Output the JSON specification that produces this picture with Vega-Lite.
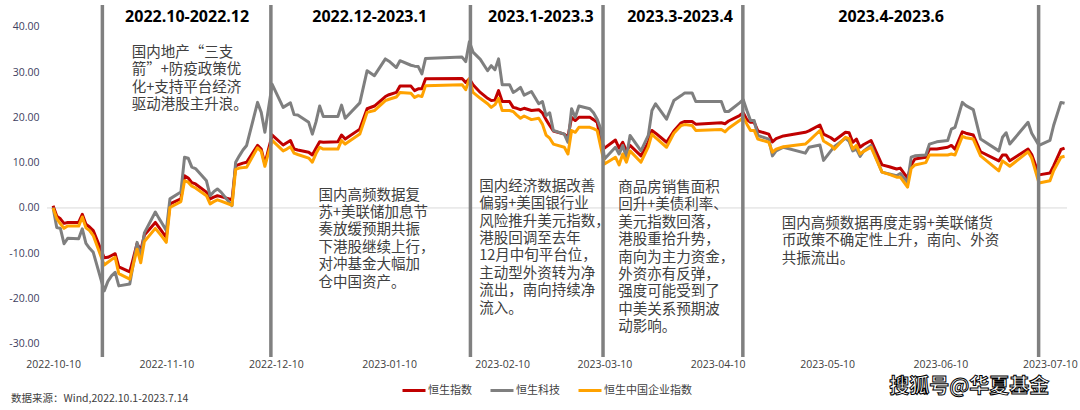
{
  "$schema": "https://vega.github.io/schema/vega-lite/v6.json",
  "autosize": {"type": "none"},
  "padding": {"left": 47, "top": 5, "right": 13, "bottom": 53},
  "width": 1020,
  "height": 352,
  "background": "#ffffff",
  "config": {"view": {"stroke": null}},
  "datasets": {
    "series": [
      {"date":"2022-10-10","hsi":0.5,"hscei":0.0,"hstech":0.1},
      {"date":"2022-10-11","hsi":-1.8,"hscei":-2.3,"hstech":-4.3},
      {"date":"2022-10-12","hsi":-2.4,"hscei":-3.5,"hstech":-4.5},
      {"date":"2022-10-13","hsi":-3.4,"hscei":-4.5,"hstech":-7.9},
      {"date":"2022-10-14","hsi":-3.2,"hscei":-4.0,"hstech":-6.7},
      {"date":"2022-10-17","hsi":-3.2,"hscei":-4.0,"hstech":-6.8},
      {"date":"2022-10-18","hsi":-1.4,"hscei":-2.0,"hstech":-4.6},
      {"date":"2022-10-19","hsi":-3.6,"hscei":-4.4,"hstech":-7.8},
      {"date":"2022-10-20","hsi":-4.2,"hscei":-5.0,"hstech":-8.9},
      {"date":"2022-10-21","hsi":-5.0,"hscei":-6.1,"hstech":-9.8},
      {"date":"2022-10-24","hsi":-11.0,"hscei":-12.6,"hstech":-18.3},
      {"date":"2022-10-25","hsi":-10.9,"hscei":-12.0,"hstech":-16.2},
      {"date":"2022-10-26","hsi":-10.5,"hscei":-11.4,"hstech":-15.0},
      {"date":"2022-10-27","hsi":-10.1,"hscei":-10.9,"hstech":-14.2},
      {"date":"2022-10-28","hsi":-13.0,"hscei":-14.5,"hstech":-17.2},
      {"date":"2022-10-31","hsi":-14.1,"hscei":-15.7,"hstech":-16.8},
      {"date":"2022-11-01","hsi":-11.0,"hscei":-12.4,"hstech":-12.2},
      {"date":"2022-11-02","hsi":-7.9,"hscei":-9.1,"hstech":-7.6},
      {"date":"2022-11-03","hsi":-9.4,"hscei":-12.1,"hstech":-10.9},
      {"date":"2022-11-04","hsi":-6.0,"hscei":-7.4,"hstech":-5.5},
      {"date":"2022-11-07","hsi":-3.2,"hscei":-4.5,"hstech":-0.9},
      {"date":"2022-11-08","hsi":-4.3,"hscei":-5.5,"hstech":-2.3},
      {"date":"2022-11-09","hsi":-5.4,"hscei":-6.5,"hstech":-3.6},
      {"date":"2022-11-10","hsi":-6.5,"hscei":-7.6,"hstech":-5.0},
      {"date":"2022-11-11","hsi":0.9,"hscei":0.1,"hstech":2.0},
      {"date":"2022-11-14","hsi":2.0,"hscei":1.4,"hstech":3.5},
      {"date":"2022-11-15","hsi":7.1,"hscei":6.0,"hstech":11.2},
      {"date":"2022-11-16","hsi":6.6,"hscei":5.7,"hstech":11.0},
      {"date":"2022-11-17","hsi":5.6,"hscei":4.8,"hstech":9.0},
      {"date":"2022-11-18","hsi":5.3,"hscei":4.4,"hstech":8.7},
      {"date":"2022-11-21","hsi":3.5,"hscei":2.7,"hstech":6.0},
      {"date":"2022-11-22","hsi":2.0,"hscei":0.9,"hstech":2.7},
      {"date":"2022-11-23","hsi":2.4,"hscei":1.4,"hstech":3.6},
      {"date":"2022-11-24","hsi":2.7,"hscei":1.8,"hstech":4.2},
      {"date":"2022-11-25","hsi":2.5,"hscei":1.5,"hstech":3.5},
      {"date":"2022-11-28","hsi":1.8,"hscei":0.6,"hstech":0.5},
      {"date":"2022-11-29","hsi":9.3,"hscei":8.5,"hstech":10.1},
      {"date":"2022-11-30","hsi":9.6,"hscei":8.8,"hstech":11.5},
      {"date":"2022-12-01","hsi":9.9,"hscei":8.9,"hstech":12.8},
      {"date":"2022-12-02","hsi":10.1,"hscei":9.0,"hstech":13.8},
      {"date":"2022-12-05","hsi":13.8,"hscei":13.3,"hstech":23.3},
      {"date":"2022-12-06","hsi":13.0,"hscei":12.5,"hstech":21.1},
      {"date":"2022-12-07","hsi":9.7,"hscei":9.2,"hstech":16.7},
      {"date":"2022-12-08","hsi":13.0,"hscei":12.2,"hstech":22.0},
      {"date":"2022-12-09","hsi":16.1,"hscei":14.9,"hstech":27.3},
      {"date":"2022-12-12","hsi":13.9,"hscei":12.6,"hstech":22.2},
      {"date":"2022-12-13","hsi":14.4,"hscei":13.0,"hstech":22.7},
      {"date":"2022-12-14","hsi":14.9,"hscei":13.5,"hstech":23.2},
      {"date":"2022-12-15","hsi":13.0,"hscei":12.1,"hstech":20.6},
      {"date":"2022-12-16","hsi":12.8,"hscei":11.8,"hstech":20.5},
      {"date":"2022-12-19","hsi":12.3,"hscei":11.0,"hstech":18.9},
      {"date":"2022-12-20","hsi":11.7,"hscei":10.1,"hstech":16.3},
      {"date":"2022-12-21","hsi":13.2,"hscei":12.0,"hstech":19.0},
      {"date":"2022-12-22","hsi":14.6,"hscei":13.4,"hstech":22.5},
      {"date":"2022-12-23","hsi":14.5,"hscei":13.0,"hstech":20.2},
      {"date":"2022-12-27","hsi":14.6,"hscei":13.0,"hstech":20.2},
      {"date":"2022-12-28","hsi":16.1,"hscei":14.9,"hstech":22.7},
      {"date":"2022-12-29","hsi":15.2,"hscei":14.1,"hstech":19.8},
      {"date":"2023-01-02","hsi":17.4,"hscei":16.3,"hstech":23.2},
      {"date":"2023-01-04","hsi":21.9,"hscei":21.1,"hstech":30.3},
      {"date":"2023-01-06","hsi":22.5,"hscei":21.5,"hstech":29.2},
      {"date":"2023-01-09","hsi":24.6,"hscei":23.7,"hstech":32.9},
      {"date":"2023-01-10","hsi":25.0,"hscei":24.0,"hstech":32.4},
      {"date":"2023-01-12","hsi":25.5,"hscei":24.5,"hstech":31.0},
      {"date":"2023-01-13","hsi":26.9,"hscei":25.5,"hstech":32.5},
      {"date":"2023-01-16","hsi":26.9,"hscei":25.3,"hstech":31.5},
      {"date":"2023-01-17","hsi":25.9,"hscei":24.4,"hstech":31.3},
      {"date":"2023-01-18","hsi":26.3,"hscei":24.8,"hstech":31.2},
      {"date":"2023-01-19","hsi":26.3,"hscei":24.6,"hstech":29.6},
      {"date":"2023-01-20","hsi":28.5,"hscei":27.0,"hstech":33.0},
      {"date":"2023-01-30","hsi":28.6,"hscei":27.2,"hstech":33.3},
      {"date":"2023-01-31","hsi":27.7,"hscei":26.1,"hstech":32.3},
      {"date":"2023-02-01","hsi":28.5,"hscei":28.5,"hstech":36.7},
      {"date":"2023-02-02","hsi":27.2,"hscei":25.5,"hstech":34.4},
      {"date":"2023-02-04","hsi":25.5,"hscei":24.2,"hstech":32.8},
      {"date":"2023-02-06","hsi":24.2,"hscei":23.0,"hstech":30.3},
      {"date":"2023-02-07","hsi":23.7,"hscei":22.2,"hstech":31.4},
      {"date":"2023-02-08","hsi":23.8,"hscei":22.8,"hstech":30.5},
      {"date":"2023-02-09","hsi":25.9,"hscei":24.2,"hstech":32.9},
      {"date":"2023-02-10","hsi":23.5,"hscei":21.5,"hstech":27.2},
      {"date":"2023-02-12","hsi":23.5,"hscei":21.5,"hstech":27.2},
      {"date":"2023-02-13","hsi":22.2,"hscei":21.3,"hstech":25.5},
      {"date":"2023-02-14","hsi":22.0,"hscei":20.5,"hstech":26.0},
      {"date":"2023-02-15","hsi":21.7,"hscei":19.8,"hstech":26.6},
      {"date":"2023-02-16","hsi":22.0,"hscei":20.3,"hstech":24.9},
      {"date":"2023-02-18","hsi":21.5,"hscei":19.5,"hstech":25.7},
      {"date":"2023-02-20","hsi":21.7,"hscei":19.8,"hstech":23.0},
      {"date":"2023-02-21","hsi":21.0,"hscei":18.5,"hstech":23.5},
      {"date":"2023-02-22","hsi":19.5,"hscei":16.1,"hstech":20.4},
      {"date":"2023-02-23","hsi":18.2,"hscei":15.4,"hstech":21.0},
      {"date":"2023-02-24","hsi":17.0,"hscei":14.1,"hstech":17.1},
      {"date":"2023-02-27","hsi":16.3,"hscei":13.4,"hstech":16.3},
      {"date":"2023-02-28","hsi":15.7,"hscei":11.9,"hstech":14.5},
      {"date":"2023-03-01","hsi":20.0,"hscei":17.1,"hstech":21.9},
      {"date":"2023-03-02","hsi":19.3,"hscei":16.7,"hstech":20.0},
      {"date":"2023-03-03","hsi":20.0,"hscei":17.8,"hstech":22.5},
      {"date":"2023-03-06","hsi":20.0,"hscei":17.8,"hstech":21.9},
      {"date":"2023-03-07","hsi":19.5,"hscei":17.5,"hstech":21.0},
      {"date":"2023-03-08","hsi":18.9,"hscei":17.1,"hstech":19.6},
      {"date":"2023-03-09","hsi":14.9,"hscei":13.4,"hstech":17.4},
      {"date":"2023-03-10","hsi":13.2,"hscei":9.7,"hstech":10.8},
      {"date":"2023-03-13","hsi":15.0,"hscei":11.2,"hstech":13.4},
      {"date":"2023-03-14","hsi":13.2,"hscei":9.5,"hstech":11.9},
      {"date":"2023-03-15","hsi":14.5,"hscei":11.9,"hstech":13.8},
      {"date":"2023-03-16","hsi":12.6,"hscei":10.1,"hstech":11.2},
      {"date":"2023-03-17","hsi":13.8,"hscei":12.6,"hstech":16.0},
      {"date":"2023-03-20","hsi":11.5,"hscei":10.1,"hstech":12.6},
      {"date":"2023-03-22","hsi":14.5,"hscei":13.5,"hstech":16.0},
      {"date":"2023-03-23","hsi":17.1,"hscei":16.3,"hstech":21.5},
      {"date":"2023-03-24","hsi":16.5,"hscei":15.5,"hstech":23.0},
      {"date":"2023-03-27","hsi":14.5,"hscei":13.4,"hstech":19.6},
      {"date":"2023-03-29","hsi":17.0,"hscei":16.5,"hstech":23.7},
      {"date":"2023-03-31","hsi":18.8,"hscei":18.2,"hstech":24.8},
      {"date":"2023-04-01","hsi":19.1,"hscei":18.4,"hstech":25.4},
      {"date":"2023-04-03","hsi":19.1,"hscei":18.2,"hstech":25.4},
      {"date":"2023-04-04","hsi":18.5,"hscei":17.1,"hstech":23.5},
      {"date":"2023-04-11","hsi":18.8,"hscei":17.3,"hstech":23.5},
      {"date":"2023-04-12","hsi":18.6,"hscei":16.8,"hstech":21.3},
      {"date":"2023-04-13","hsi":19.2,"hscei":17.6,"hstech":21.3},
      {"date":"2023-04-16","hsi":20.4,"hscei":19.3,"hstech":23.2},
      {"date":"2023-04-17","hsi":21.0,"hscei":20.0,"hstech":23.9},
      {"date":"2023-04-18","hsi":19.5,"hscei":18.5,"hstech":21.5},
      {"date":"2023-04-19","hsi":18.9,"hscei":17.1,"hstech":19.3},
      {"date":"2023-04-20","hsi":18.9,"hscei":17.1,"hstech":19.3},
      {"date":"2023-04-21","hsi":17.0,"hscei":15.2,"hstech":16.0},
      {"date":"2023-04-24","hsi":16.3,"hscei":14.5,"hstech":15.2},
      {"date":"2023-04-25","hsi":14.6,"hscei":12.3,"hstech":11.5},
      {"date":"2023-04-26","hsi":15.3,"hscei":13.0,"hstech":12.6},
      {"date":"2023-04-28","hsi":15.9,"hscei":13.5,"hstech":13.4},
      {"date":"2023-05-04","hsi":16.7,"hscei":14.1,"hstech":12.1},
      {"date":"2023-05-05","hsi":17.0,"hscei":14.8,"hstech":13.4},
      {"date":"2023-05-08","hsi":18.3,"hscei":17.1,"hstech":13.9},
      {"date":"2023-05-09","hsi":16.3,"hscei":14.8,"hstech":10.5},
      {"date":"2023-05-11","hsi":15.5,"hscei":13.8,"hstech":12.6},
      {"date":"2023-05-12","hsi":14.9,"hscei":13.0,"hstech":13.6},
      {"date":"2023-05-15","hsi":16.7,"hscei":15.6,"hstech":15.4},
      {"date":"2023-05-16","hsi":16.6,"hscei":15.3,"hstech":14.7},
      {"date":"2023-05-17","hsi":14.5,"hscei":13.0,"hstech":12.6},
      {"date":"2023-05-18","hsi":15.2,"hscei":13.8,"hstech":13.0},
      {"date":"2023-05-19","hsi":13.4,"hscei":11.9,"hstech":11.4},
      {"date":"2023-05-20","hsi":14.0,"hscei":12.5,"hstech":12.6},
      {"date":"2023-05-22","hsi":14.9,"hscei":13.4,"hstech":13.8},
      {"date":"2023-05-25","hsi":9.5,"hscei":7.9,"hstech":7.9},
      {"date":"2023-05-27","hsi":9.1,"hscei":7.4,"hstech":7.5},
      {"date":"2023-05-29","hsi":8.6,"hscei":6.8,"hstech":7.1},
      {"date":"2023-05-30","hsi":8.8,"hscei":6.8,"hstech":7.6},
      {"date":"2023-06-01","hsi":6.6,"hscei":4.6,"hstech":5.7},
      {"date":"2023-06-02","hsi":9.5,"hscei":8.7,"hstech":11.2},
      {"date":"2023-06-03","hsi":10.8,"hscei":9.5,"hstech":11.5},
      {"date":"2023-06-06","hsi":11.2,"hscei":10.0,"hstech":11.7},
      {"date":"2023-06-07","hsi":13.0,"hscei":11.7,"hstech":14.1},
      {"date":"2023-06-09","hsi":13.0,"hscei":11.7,"hstech":14.6},
      {"date":"2023-06-12","hsi":13.4,"hscei":11.7,"hstech":14.9},
      {"date":"2023-06-13","hsi":13.8,"hscei":11.9,"hstech":17.4},
      {"date":"2023-06-14","hsi":13.0,"hscei":11.7,"hstech":17.8},
      {"date":"2023-06-16","hsi":16.8,"hscei":15.8,"hstech":23.3},
      {"date":"2023-06-17","hsi":16.5,"hscei":15.5,"hstech":22.6},
      {"date":"2023-06-19","hsi":16.1,"hscei":15.2,"hstech":21.7},
      {"date":"2023-06-21","hsi":12.4,"hscei":11.5,"hstech":15.2},
      {"date":"2023-06-26","hsi":10.4,"hscei":8.2,"hstech":12.6},
      {"date":"2023-06-27","hsi":11.7,"hscei":10.4,"hstech":15.6},
      {"date":"2023-06-28","hsi":11.7,"hscei":9.8,"hstech":16.6},
      {"date":"2023-06-29","hsi":10.4,"hscei":9.2,"hstech":14.1},
      {"date":"2023-07-04","hsi":13.0,"hscei":12.4,"hstech":18.9},
      {"date":"2023-07-05","hsi":11.8,"hscei":11.0,"hstech":16.5},
      {"date":"2023-07-07","hsi":7.3,"hscei":5.5,"hstech":13.8},
      {"date":"2023-07-10","hsi":7.7,"hscei":6.0,"hstech":14.9},
      {"date":"2023-07-11","hsi":9.3,"hscei":8.2,"hstech":18.2},
      {"date":"2023-07-13","hsi":12.9,"hscei":11.2,"hstech":23.3},
      {"date":"2023-07-14","hsi":13.2,"hscei":11.4,"hstech":23.1}
    ],
    "rules": [
      {"date":"2022-10-23T12:00:00Z"},
      {"date":"2022-12-08T15:30:00Z"},
      {"date":"2023-02-01T07:00:00Z"},
      {"date":"2023-03-09T14:30:00Z"},
      {"date":"2023-04-16T21:30:00Z"},
      {"date":"2023-07-06T21:30:00Z"}
    ],
    "headers": [
      {"date":"2022-11-15T17:00:00Z","value":42.1,"text":"2022.10-2022.12"},
      {"date":"2023-01-04T17:00:00Z","value":42.1,"text":"2022.12-2023.1"},
      {"date":"2023-02-20T14:00:00Z","value":42.1,"text":"2023.1-2023.3"},
      {"date":"2023-03-30T17:00:00Z","value":42.1,"text":"2023.3-2023.4"},
      {"date":"2023-05-27T12:00:00Z","value":42.1,"text":"2023.4-2023.6"}
    ],
    "notes": [
      {"date":"2022-10-31T13:30:00Z","value":35.74,"text":"国内地产“三支\n箭”+防疫政策优\n化+支持平台经济\n驱动港股主升浪。"},
      {"date":"2022-12-21T16:00:00Z","value":4.25,"text":"国内高频数据复\n苏+美联储加息节\n奏放缓预期共振\n下港股继续上行，\n对冲基金大幅加\n仓中国资产。"},
      {"date":"2023-02-03T17:00:00Z","value":6.22,"text":"国内经济数据改善\n偏弱+美国银行业\n风险推升美元指数，\n港股回调至去年\n12月中旬平台位，\n主动型外资转为净\n流出，南向持续净\n流入。"},
      {"date":"2023-03-13T18:00:00Z","value":5.93,"text":"商品房销售面积\n回升+美债利率、\n美元指数回落，\n港股重拾升势，\n南向为主力资金，\n外资亦有反弹，\n强度可能受到了\n中美关系预期波\n动影响。"},
      {"date":"2023-04-27T14:00:00Z","value":-1.95,"text":"国内高频数据再度走弱+美联储货\n币政策不确定性上升，南向、外资\n共振流出。"}
    ],
    "source": [
      {"date":"2022-09-28T12:00:00Z","value":-42.2,"text":"数据来源：Wind,2022.10.1-2023.7.14"}
    ],
    "mark": [
      {"date":"2023-06-17T21:30:00Z","value":-39.42,"text":"搜狐号@华夏基金"}
    ]
  },
  "layer": [
    {
      "mark": {"type": "rule", "color": "#d9d9d9", "strokeWidth": 1},
      "encoding": {
        "y": {
          "datum": 0, "type": "quantitative",
          "scale": {"domain": [-32.9, 44.8], "nice": false, "zero": false},
          "axis": {
            "values": [-30, -20, -10, 0, 10, 20, 30, 40],
            "labelExpr": "replace(format(datum.value, '.2f'), '\u2212', '-')",
            "domain": false, "ticks": false, "grid": false,
            "labelFont": "Open Sans", "labelFontSize": 10.5, "labelColor": "#404060",
            "labelPadding": 8, "title": null
          }
        }
      }
    },
    {
      "data": {"name": "series"},
      "transform": [
        {"fold": ["hsi", "hstech", "hscei"], "as": ["key", "value"]},
        {"calculate": "datum.key === 'hsi' ? '恒生指数' : datum.key === 'hstech' ? '恒生科技' : '恒生中国企业指数'", "as": "series"},
        {"filter": "datum.key === 'hsi'"}
      ],
      "mark": {"type": "line", "strokeWidth": 3, "strokeJoin": "round"},
      "encoding": {
        "x": {
          "field": "date", "type": "temporal",
          "scale": {"domain": [1665216000000, 1689350400000]},
          "axis": {
            "values": [1665360000000, 1668038400000, 1670630400000, 1673308800000, 1675987200000, 1678406400000, 1681084800000, 1683676800000, 1686355200000, 1688947200000],
            "labelExpr": "utcFormat(datum.value, '%Y-%m-%d')",
            "domain": false, "ticks": false, "grid": false,
            "labelFont": "Open Sans", "labelFontSize": 10.5, "labelColor": "#404040",
            "labelPadding": 2, "title": null, "labelOverlap": false, "labelFlush": false
          }
        },
        "y": {"field": "value", "type": "quantitative", "scale": {"domain": [-32.9, 44.8], "nice": false, "zero": false}},
        "color": {
          "field": "series", "type": "nominal",
          "scale": {"domain": ["恒生指数", "恒生科技", "恒生中国企业指数"], "range": ["#C00000", "#7F7F7F", "#FFA200"]},
          "legend": {
            "orient": "none", "legendX": 354, "legendY": 372.5, "direction": "horizontal",
            "title": null, "symbolType": "stroke", "symbolStrokeWidth": 3, "symbolSize": 529,
            "labelFont": "Noto Sans CJK SC", "labelFontSize": 11, "labelColor": "#404040",
            "labelOffset": 1, "columnPadding": 12, "padding": 0
          }
        }
      }
    },
    {
      "data": {"name": "series"},
      "transform": [
        {"fold": ["hsi", "hstech", "hscei"], "as": ["key", "value"]},
        {"calculate": "datum.key === 'hsi' ? '恒生指数' : datum.key === 'hstech' ? '恒生科技' : '恒生中国企业指数'", "as": "series"},
        {"filter": "datum.key === 'hstech'"}
      ],
      "mark": {"type": "line", "strokeWidth": 3, "strokeJoin": "round"},
      "encoding": {
        "x": {"field": "date", "type": "temporal", "scale": {"domain": [1665216000000, 1689350400000]}},
        "y": {"field": "value", "type": "quantitative", "scale": {"domain": [-32.9, 44.8], "nice": false, "zero": false}},
        "color": {"field": "series", "type": "nominal"}
      }
    },
    {
      "data": {"name": "series"},
      "transform": [
        {"fold": ["hsi", "hstech", "hscei"], "as": ["key", "value"]},
        {"calculate": "datum.key === 'hsi' ? '恒生指数' : datum.key === 'hstech' ? '恒生科技' : '恒生中国企业指数'", "as": "series"},
        {"filter": "datum.key === 'hscei'"}
      ],
      "mark": {"type": "line", "strokeWidth": 3, "strokeJoin": "round"},
      "encoding": {
        "x": {"field": "date", "type": "temporal", "scale": {"domain": [1665216000000, 1689350400000]}},
        "y": {"field": "value", "type": "quantitative", "scale": {"domain": [-32.9, 44.8], "nice": false, "zero": false}},
        "color": {"field": "series", "type": "nominal"}
      }
    },
    {
      "data": {"name": "rules"},
      "mark": {"type": "rule", "color": "#808080", "strokeWidth": 3.5},
      "encoding": {
        "x": {"field": "date", "type": "temporal", "scale": {"domain": [1665216000000, 1689350400000]}}
      }
    },
    {
      "data": {"name": "headers"},
      "mark": {"type": "text", "font": "Open Sans", "fontWeight": "bold", "fontSize": 16, "color": "#000000", "align": "center", "baseline": "middle"},
      "encoding": {
        "x": {"field": "date", "type": "temporal", "scale": {"domain": [1665216000000, 1689350400000]}},
        "y": {"field": "value", "type": "quantitative", "scale": {"domain": [-32.9, 44.8], "nice": false, "zero": false}},
        "text": {"field": "text", "type": "nominal"}
      }
    },
    {
      "data": {"name": "notes"},
      "mark": {"type": "text", "font": "Noto Sans CJK SC", "fontSize": 14.5, "color": "#404040", "align": "left", "baseline": "top", "lineBreak": "\n", "lineHeight": 17.4},
      "encoding": {
        "x": {"field": "date", "type": "temporal", "scale": {"domain": [1665216000000, 1689350400000]}},
        "y": {"field": "value", "type": "quantitative", "scale": {"domain": [-32.9, 44.8], "nice": false, "zero": false}},
        "text": {"field": "text", "type": "nominal"}
      }
    },
    {
      "data": {"name": "source"},
      "mark": {"type": "text", "font": "Noto Sans CJK SC", "fontSize": 10.5, "color": "#404040", "align": "left", "baseline": "middle"},
      "encoding": {
        "x": {"field": "date", "type": "temporal", "scale": {"domain": [1665216000000, 1689350400000]}},
        "y": {"field": "value", "type": "quantitative", "scale": {"domain": [-32.9, 44.8], "nice": false, "zero": false}},
        "text": {"field": "text", "type": "nominal"}
      }
    },
    {
      "data": {"name": "mark"},
      "mark": {"type": "text", "font": "Noto Sans CJK SC", "fontWeight": "bold", "fontSize": 20, "fill": "#ffffff", "stroke": "#000000", "strokeWidth": 1, "align": "center", "baseline": "middle"},
      "encoding": {
        "x": {"field": "date", "type": "temporal", "scale": {"domain": [1665216000000, 1689350400000]}},
        "y": {"field": "value", "type": "quantitative", "scale": {"domain": [-32.9, 44.8], "nice": false, "zero": false}},
        "text": {"field": "text", "type": "nominal"}
      }
    }
  ]
}
